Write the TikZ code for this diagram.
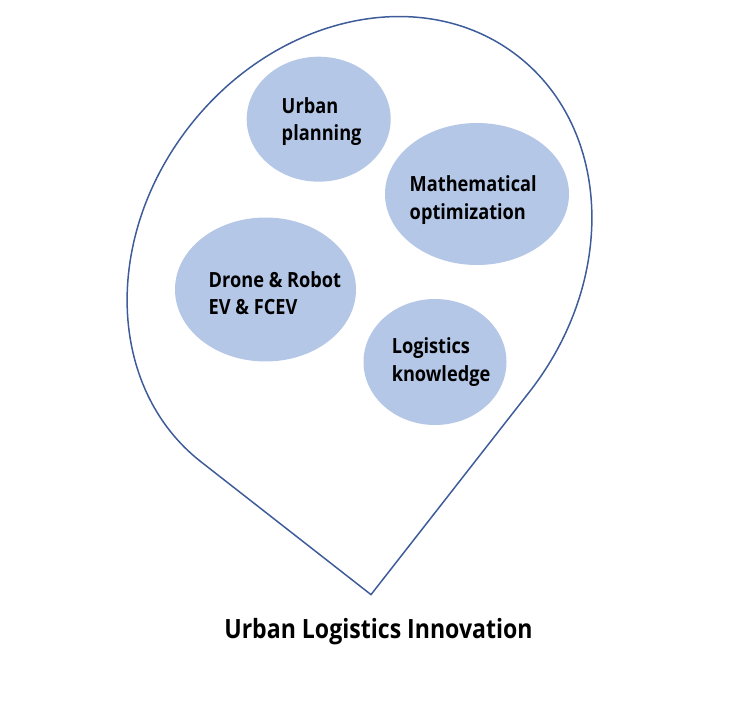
\documentclass[tikz,border=0pt]{standalone}
\usepackage{fontspec}
\setmainfont{Open Sans}[FakeStretch=0.87]
\usepackage{tikz}
\usetikzlibrary{positioning}
\usetikzlibrary{calc}
\usetikzlibrary{shapes.geometric}
\definecolor{dropline}{HTML}{3D5C99}
\definecolor{blobfill}{HTML}{B4C7E7}

\begin{document}
\begin{tikzpicture}[line width=0.85pt,
    blob/.style={ellipse, fill=blobfill, draw=none, inner sep=0pt},
    txt/.style={anchor=west, align=left, inner sep=0pt,
      font=\bfseries\fontsize{11.9}{15.6}\selectfont}]
    \useasboundingbox (0,0) rectangle (14.86,14.08);

    % the drop
    \begin{scope}[shift={(7.19,8.90)}, rotate=-128]
      \draw[dropline] (5.148,0) arc[start angle=0, end angle=-270,
        x radius=5.148, y radius=4.314] -- (5.148,4.314) -- cycle;
    \end{scope}

    % fields
    \node[blob, minimum width=2.88cm, minimum height=2.50cm] (urban) at (6.374,11.696) {};
    \node[blob, minimum width=3.68cm, minimum height=2.84cm] (math) at (9.54,10.20) {};
    \node[blob, minimum width=3.62cm, minimum height=2.88cm] (drone) at (5.31,8.29) {};
    \node[blob, minimum width=2.86cm, minimum height=2.52cm] (logis) at (8.70,6.84) {};

    \node[txt] (urbantxt) at (5.62,11.65) {Urban\\planning};
    \node[txt] (mathtxt) at (8.18,10.08) {Mathematical\\optimization};
    \node[txt] (dronetxt) at (4.16,8.22) {Drone \& Robot\\EV \& FCEV};
    \node[txt] (logistxt) at (7.82,6.84) {Logistics\\knowledge};

    \node[anchor=base, inner sep=0pt, font=\bfseries\fontsize{15.1}{18}\selectfont]
      (title) at (7.57,1.30) {Urban Logistics Innovation};
\end{tikzpicture}
\end{document}
